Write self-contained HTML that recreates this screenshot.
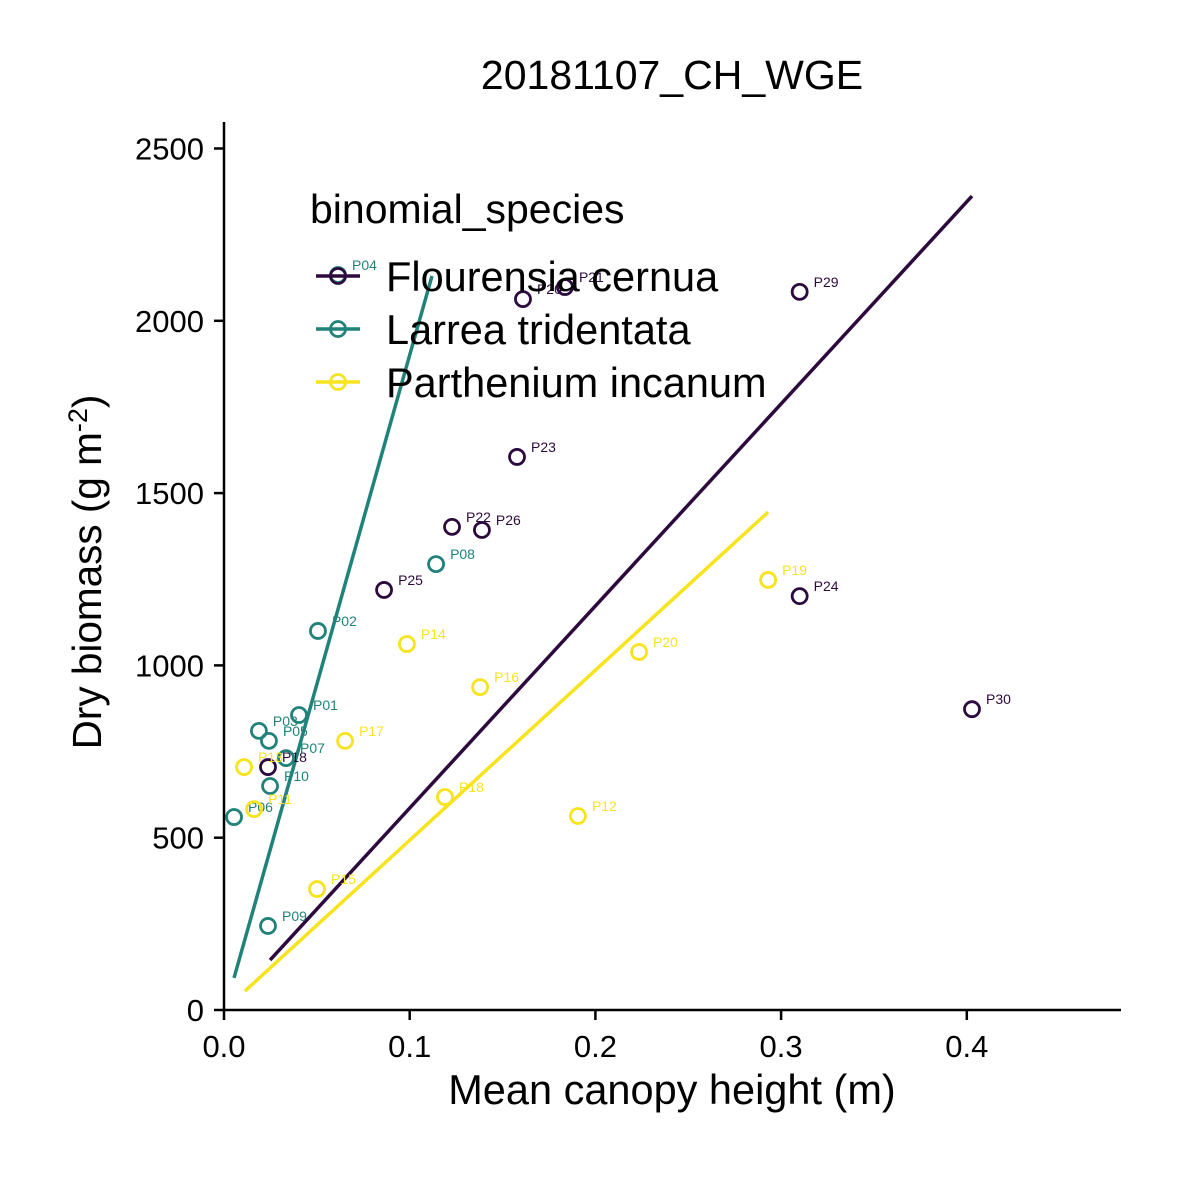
<!DOCTYPE html>
<html><head><meta charset="utf-8"><style>
body{margin:0;background:#fff}
svg text{font-family:"Liberation Sans",Arial,sans-serif}
</style></head><body>
<svg id="chart" width="1181" height="1181" viewBox="0 0 1181 1181" xmlns="http://www.w3.org/2000/svg">
<rect width="1181" height="1181" fill="#fff"/>
<g id="lines"></g><g id="pts"></g>
<g id="axes"></g>
</svg>
<script>
const species = ["Flourensia cernua","Larrea tridentata","Parthenium incanum"];
const colors = ["#2d0a3e","#21827a","#f7e31e"];
const flLabels = ["P18","P25","P22","P26","P23","P20","P21","P29","P24","P30"];
const flX = [0.0237,0.0862,0.1228,0.1389,0.1578,0.161,0.1836,0.310,0.310,0.4028];
const flY = [705,1219,1402,1393,1605,2063,2098,2084,1201,873];
const laLabels = ["P04","P08","P02","P01","P03","P05","P07","P10","P06","P09"];
const laX = [0.0614,0.1142,0.0506,0.0404,0.0188,0.0242,0.0334,0.0248,0.0054,0.0237];
const laY = [2133,1294,1100,856,810,781,731,650,560,244];
const paLabels = ["P13","P11","P15","P17","P14","P18","P16","P12","P20","P19"];
const paX = [0.0108,0.0162,0.0501,0.0652,0.0985,0.119,0.1379,0.1906,0.2235,0.293];
const paY = [705,583,351,781,1062,618,937,563,1039,1248];
const fitX = [[0.0248,0.4028],[0.0054,0.112],[0.0113,0.293]];
const fitY = [[145,2362],[93,2130],[55,1445]];
const xTicks = [0,0.1,0.2,0.3,0.4];
const xTickLabels = ["0.0","0.1","0.2","0.3","0.4"];
const yTicks = [0,500,1000,1500,2000,2500];

const NS="http://www.w3.org/2000/svg";
const sx = v => 224 + v*1857;
const sy = v => 1010 - v*0.3446;
function mk(tag, attrs, parent, txt){const e=document.createElementNS(NS,tag);for(const k in attrs)e.setAttribute(k,attrs[k]);if(txt!==undefined)e.textContent=txt;parent.appendChild(e);return e;}
const lines=document.getElementById('lines'), pts=document.getElementById('pts'), axes=document.getElementById('axes');
fitX.forEach((fx,i)=>{
  const l=mk('line',{x1:sx(fx[0]),y1:sy(fitY[i][0]),x2:sx(fx[1]),y2:sy(fitY[i][1]),stroke:colors[i],'stroke-width':3.5},lines);
  
  
});
[[flX,flY,flLabels],[laX,laY,laLabels],[paX,paY,paLabels]].forEach((s,i)=>{
  s[0].forEach((xv,j)=>{
    const c=mk('circle',{cx:sx(xv),cy:sy(s[1][j]),r:7.5,fill:'none',stroke:colors[i],'stroke-width':2.8},pts);
    
    
    const t=mk('text',{x:sx(xv)+14,y:sy(s[1][j])-5,'font-size':14,fill:colors[i]},pts,s[2][j]);
    
    
  });
});
mk('line',{x1:224,y1:122,x2:224,y2:1011,stroke:'#000','stroke-width':2.5},axes);
mk('line',{x1:223,y1:1010,x2:1121,y2:1010,stroke:'#000','stroke-width':2.5},axes);
xTicks.forEach((v,i)=>{
  mk('line',{x1:sx(v),y1:1010,x2:sx(v),y2:1020,stroke:'#000','stroke-width':2.5},axes);
  const t=mk('text',{x:sx(v),y:1057,'font-size':31,'text-anchor':'middle'},axes,xTickLabels[i]);
  
  
});
yTicks.forEach(v=>{
  mk('line',{x1:214,y1:sy(v),x2:224,y2:sy(v),stroke:'#000','stroke-width':2.5},axes);
  const t=mk('text',{x:204,y:sy(v)+11,'font-size':31,'text-anchor':'end'},axes,String(v));
  
  
});
const lg=mk('g',{},axes);


mk('text',{x:310,y:223,'font-size':41},lg,'binomial_species');
species.forEach((s,i)=>{
  const y=276+i*53;
  mk('line',{x1:316,y1:y,x2:360,y2:y,stroke:colors[i],'stroke-width':3.5},lg);
  mk('circle',{cx:338,cy:y,r:7.5,fill:'none',stroke:colors[i],'stroke-width':2.8},lg);
  const t=mk('text',{x:386,y:y+15,'font-size':41.5},lg,s);
  
  
});
</script>
<svg style="position:absolute;left:0;top:0" width="1181" height="1181">
<text x="672" y="89" font-size="41" text-anchor="middle" font-family="Liberation Sans, sans-serif">20181107_CH_WGE</text>
<text x="672" y="1104" font-size="41.5" text-anchor="middle" font-family="Liberation Sans, sans-serif">Mean canopy height (m)</text>
<text transform="translate(101,572) rotate(-90)" font-size="40.5" text-anchor="middle" font-family="Liberation Sans, sans-serif">Dry biomass (g m<tspan dy="-14" font-size="27">-2</tspan><tspan dy="14">)</tspan></text>
</svg>
</body></html>
